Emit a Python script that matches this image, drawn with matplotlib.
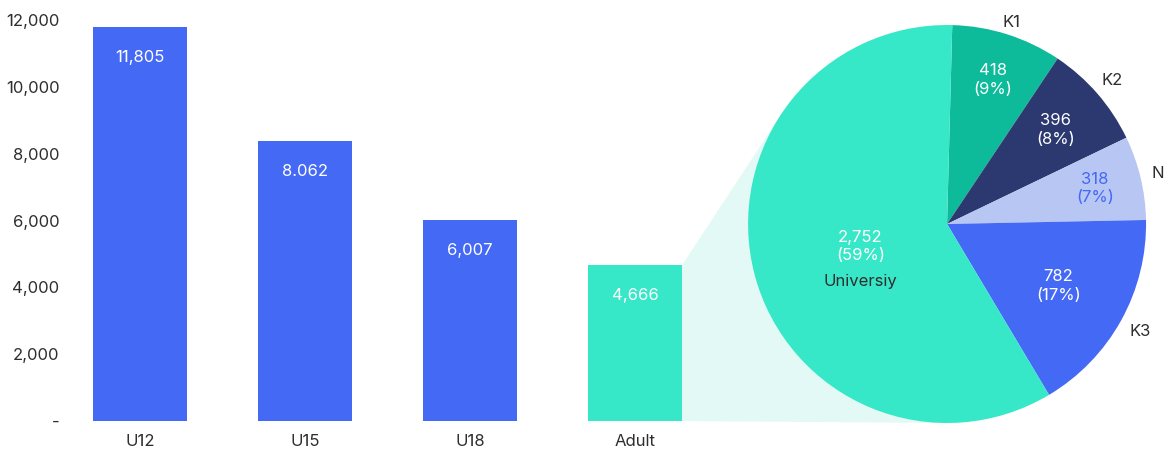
"""Bar of pie: players by age group, with the Adult bar split by level."""

import matplotlib
matplotlib.use("Agg")
import matplotlib.pyplot as plt
import numpy as np
from matplotlib.patches import Polygon

plt.rcParams["font.family"] = ["Inter", "DejaVu Sans"]

# --- data -------------------------------------------------------------
AGE_GROUPS = ["U12", "U15", "U18", "Adult"]
BAR_VALUES = [11805, 8390, 6007, 4666]
BAR_LABELS = ["11,805", "8.062", "6,007", "4,666"]

Y_TICKS = [0, 2000, 4000, 6000, 8000, 10000, 12000]
Y_TICK_LABELS = ["-", "2,000", "4,000", "6,000", "8,000", "10,000", "12,000"]

PIE_NAMES = ["K1", "K2", "N", "K3", "Universiy"]
PIE_VALUES = [418, 396, 318, 782, 2752]

# --- style ------------------------------------------------------------
BLUE = "#4469F5"
MINT = "#36E8C8"
TEAL = "#0DBB9B"
NAVY = "#2C3870"
LAVENDER = "#B7C6F3"
CONNECTOR = "#E3F9F5"
TEXT = "#2E2E2E"

BAR_COLORS = [BLUE, BLUE, BLUE, MINT]
PIE_COLORS = [TEAL, NAVY, LAVENDER, BLUE, MINT]
PIE_TEXT_COLORS = ["white", "white", BLUE, "white", "white"]
INNER_R = [0.76, 0.72, 0.765, 0.64, 0.45]
OUTER_R = [1.065, 1.10, 1.09, 1.11, None]
FS = 12

CONNECT_TOP_DEG = 145
CONNECT_BOTTOM_DEG = 270

fig = plt.figure(figsize=(11.69, 4.5), dpi=100)
ax1 = fig.add_axes([0.0605, 0.0644, 0.5674, 0.9129])
ax2 = fig.add_axes([0.6399, 0.06, 0.3405, 0.8844])

# --- bars -------------------------------------------------------------
x = np.arange(len(AGE_GROUPS))
bars = ax1.bar(x, BAR_VALUES, width=0.57, color=BAR_COLORS, zorder=2)
for b, lab in zip(bars, BAR_LABELS):
    ax1.annotate(lab, (b.get_x() + b.get_width() / 2, b.get_height()),
                 xytext=(0, -22), textcoords="offset points",
                 ha="center", va="center", color="white", fontsize=FS)

ax1.set_xlim(-0.42, 3.6)
ax1.set_ylim(0, 12300)
ax1.set_xticks(x, AGE_GROUPS)
ax1.set_yticks(Y_TICKS, Y_TICK_LABELS)
ax1.tick_params(length=0, labelsize=FS, labelcolor=TEXT)
ax1.tick_params(axis="x", pad=9)
ax1.tick_params(axis="y", pad=8)
for sp in ax1.spines.values():
    sp.set_visible(False)
ax1.set_facecolor("none")

# --- pie --------------------------------------------------------------
total = sum(PIE_VALUES)
wedges, _ = ax2.pie(PIE_VALUES, colors=PIE_COLORS, startangle=88.5,
                    counterclock=False, radius=1,
                    wedgeprops=dict(linewidth=0))
ax2.set_xlim(-1, 1)
ax2.set_ylim(-1, 1)
ax2.set_facecolor("none")

for w, name, val, tc, ri, ro in zip(wedges, PIE_NAMES, PIE_VALUES,
                                    PIE_TEXT_COLORS, INNER_R, OUTER_R):
    mid = np.deg2rad((w.theta1 + w.theta2) / 2)
    cx, cy = np.cos(mid), np.sin(mid)
    pct = round(100 * val / total)
    ax2.text(ri * cx, ri * cy, f"{val:,}\n({pct}%)", ha="center",
             va="center", color=tc, fontsize=FS, linespacing=1.3)
    if ro is not None:
        ax2.text(ro * cx, ro * cy, name, ha="center", va="center",
                 color=TEXT, fontsize=FS)
    else:
        ax2.annotate(name, (ri * cx, ri * cy), xytext=(0, -25),
                     textcoords="offset points", ha="center", va="center",
                     color=TEXT, fontsize=FS)

# --- connector from Adult bar to pie ----------------------------------
fig.canvas.draw()
adult = bars[-1]
x_right = adult.get_x() + adult.get_width()
p_top = ax1.transData.transform((x_right, adult.get_height()))
p_bot = ax1.transData.transform((x_right, 0))
t_top = ax2.transData.transform((np.cos(np.deg2rad(CONNECT_TOP_DEG)),
                                 np.sin(np.deg2rad(CONNECT_TOP_DEG))))
t_bot = ax2.transData.transform((np.cos(np.deg2rad(CONNECT_BOTTOM_DEG)),
                                 np.sin(np.deg2rad(CONNECT_BOTTOM_DEG))))
centre = ax2.transData.transform((0, 0))
pts = fig.transFigure.inverted().transform(
    np.array([p_top, t_top, centre, t_bot, p_bot]))
fig.add_artist(Polygon(pts, closed=True, transform=fig.transFigure,
                       facecolor=CONNECTOR, edgecolor="none", zorder=-1))

fig.savefig("out.png", dpi=100)
